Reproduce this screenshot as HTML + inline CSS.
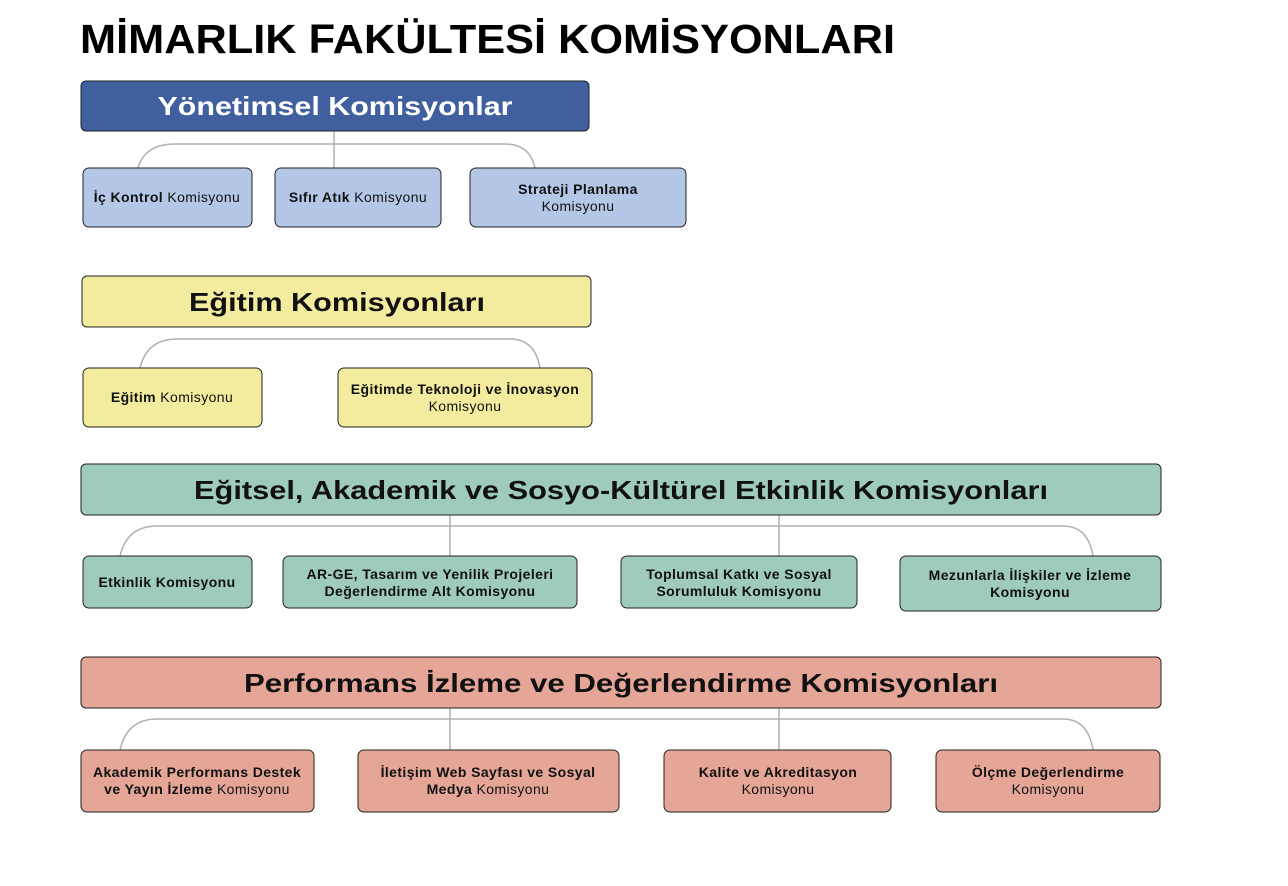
<!DOCTYPE html>
<html><head><meta charset="utf-8"><style>
body{margin:0;background:#fff;width:1288px;height:881px;overflow:hidden}
svg text{font-family:"Liberation Sans",Arial,sans-serif}
</style></head><body>
<svg width="1288" height="881" xmlns="http://www.w3.org/2000/svg">
<text x="80" y="53" font-size="41" font-weight="bold" fill="#000" textLength="815" lengthAdjust="spacingAndGlyphs">MİMARLIK FAKÜLTESİ KOMİSYONLARI</text>

<g fill="none" stroke="#b0b0b0" stroke-width="1.5">
<path d="M138 168 Q145 144 175 144 L505 144 Q530 144 535 168 M334 131 L334 168"/>
<path d="M140 368 Q147 339 177 339 L510 339 Q535 339 540 368"/>
<path d="M120 556 Q127 526 157 526 L1063 526 Q1088 526 1093 556 M450 515 L450 556 M779 515 L779 556"/>
<path d="M120 750 Q127 719 157 719 L1063 719 Q1088 719 1093 750 M450 708 L450 750 M779 708 L779 750"/>
</g>

<g stroke="#222" stroke-width="1">
<rect x="81" y="81" width="508" height="50" rx="5" fill="#3f5f9e"/>
<rect x="83" y="168" width="169" height="59" rx="6" fill="#b4c7e7"/>
<rect x="275" y="168" width="166" height="59" rx="6" fill="#b4c7e7"/>
<rect x="470" y="168" width="216" height="59" rx="6" fill="#b4c7e7"/>

<rect x="82" y="276" width="509" height="51" rx="5" fill="#f3ec9e"/>
<rect x="83" y="368" width="179" height="59" rx="6" fill="#f3ec9e"/>
<rect x="338" y="368" width="254" height="59" rx="6" fill="#f3ec9e"/>

<rect x="81" y="464" width="1080" height="51" rx="5" fill="#9fcbbb"/>
<rect x="83" y="556" width="169" height="52" rx="6" fill="#9fcbbb"/>
<rect x="283" y="556" width="294" height="52" rx="6" fill="#9fcbbb"/>
<rect x="621" y="556" width="236" height="52" rx="6" fill="#9fcbbb"/>
<rect x="900" y="556" width="261" height="55" rx="6" fill="#9fcbbb"/>

<rect x="81" y="657" width="1080" height="51" rx="5" fill="#e5a597"/>
<rect x="81" y="750" width="233" height="62" rx="6" fill="#e5a597"/>
<rect x="358" y="750" width="261" height="62" rx="6" fill="#e5a597"/>
<rect x="664" y="750" width="227" height="62" rx="6" fill="#e5a597"/>
<rect x="936" y="750" width="224" height="62" rx="6" fill="#e5a597"/>
</g>

<g font-weight="bold" font-size="26" text-anchor="middle">
<text x="335" y="115" fill="#fff" textLength="355" lengthAdjust="spacingAndGlyphs">Yönetimsel Komisyonlar</text>
<text x="337" y="311" fill="#111" textLength="296" lengthAdjust="spacingAndGlyphs">Eğitim Komisyonları</text>
<text x="621" y="499" fill="#111" textLength="854" lengthAdjust="spacingAndGlyphs">Eğitsel, Akademik ve Sosyo-Kültürel Etkinlik Komisyonları</text>
<text x="621" y="692" fill="#111" textLength="754" lengthAdjust="spacingAndGlyphs">Performans İzleme ve Değerlendirme Komisyonları</text>
</g>

<g font-size="14" letter-spacing="0.4" text-anchor="middle" fill="#111">
<text x="167" y="202"><tspan font-weight="bold">İç Kontrol</tspan> Komisyonu</text>
<text x="358" y="202"><tspan font-weight="bold">Sıfır Atık</tspan> Komisyonu</text>
<text x="578" y="194" font-weight="bold">Strateji Planlama</text>
<text x="578" y="211">Komisyonu</text>

<text x="172" y="402"><tspan font-weight="bold">Eğitim</tspan> Komisyonu</text>
<text x="465" y="394" font-weight="bold">Eğitimde Teknoloji ve İnovasyon</text>
<text x="465" y="411">Komisyonu</text>

<text x="167" y="587" font-weight="bold">Etkinlik Komisyonu</text>
<text x="430" y="579" font-weight="bold">AR-GE, Tasarım ve Yenilik Projeleri</text>
<text x="430" y="596" font-weight="bold">Değerlendirme Alt Komisyonu</text>
<text x="739" y="579" font-weight="bold">Toplumsal Katkı ve Sosyal</text>
<text x="739" y="596" font-weight="bold">Sorumluluk Komisyonu</text>
<text x="1030" y="580" font-weight="bold">Mezunlarla İlişkiler ve İzleme</text>
<text x="1030" y="597" font-weight="bold">Komisyonu</text>

<text x="197" y="777" font-weight="bold">Akademik Performans Destek</text>
<text x="197" y="794"><tspan font-weight="bold">ve Yayın İzleme</tspan> Komisyonu</text>
<text x="488" y="777" font-weight="bold">İletişim Web Sayfası ve Sosyal</text>
<text x="488" y="794"><tspan font-weight="bold">Medya</tspan>  Komisyonu</text>
<text x="778" y="777" font-weight="bold">Kalite ve Akreditasyon</text>
<text x="778" y="794">Komisyonu</text>
<text x="1048" y="777" font-weight="bold">Ölçme Değerlendirme</text>
<text x="1048" y="794">Komisyonu</text>
</g>
</svg>
</body></html>
